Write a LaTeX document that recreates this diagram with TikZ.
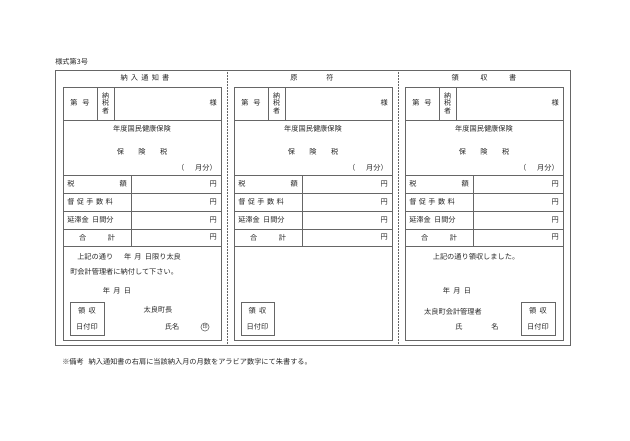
\documentclass[tikz,border=0pt]{standalone}
\usepackage{fontspec}
\newfontfamily\jp{Noto Sans CJK JP}
\begin{document}
\begin{tikzpicture}[x=1pt,y=-1pt,line width=0.5pt,
  every node/.style={font=\jp\fontsize{7.2}{8}\selectfont,inner sep=0pt,text=black!85},
  ln/.style={draw=black!60}, sep/.style={draw=black!60,densely dotted}]
\useasboundingbox (0,0) rectangle (630,440);
\node[anchor=west] (form) at (55,62) {様式第3号};
\draw[ln] (55,70) rectangle (570,345);
\draw[sep] (227,70) -- (227,345);
\draw[sep] (398,70) -- (398,345);
\node (t1) at (145,78) {納\ \ 入\ \ 通\ \ 知\ \ 書};
\node (t2) at (312,78) {原\hspace{4em}符};
\node (t3) at (484,78) {領\hspace{3em}収\hspace{3em}書};
\foreach \X in {63,234,405}{
\begin{scope}[shift={(\X,0)}]
\draw[ln] (0,87) rectangle (158,340);
\draw[ln] (0,120) -- (158,120);
\draw[ln] (34,87) -- (34,120) (51,87) -- (51,120);
\foreach \y in {175,193,211,229,246} \draw[ln] (0,\y) -- (158,\y);
\draw[ln] (68,175) -- (68,246);
\node at (17,103) {第\ \ \ 号};
\node[align=center,font=\jp\fontsize{7}{7.5}\selectfont] at (42.5,103) {納\\税\\者};
\node[anchor=east] at (154,103) {様};
\node at (79,129) {年度国民健康保険};
\node at (79,152) {保\hspace{2em}険\hspace{2em}税};
\node[anchor=east] at (154,168) {（\hspace{1.5em}月分）};
\node[anchor=west] at (4,184) {税};
\node[anchor=east] at (64,184) {額};
\node[anchor=west] at (4,202) {督\,\,促\,\,手\,\,数\,\,料};
\node[anchor=west] at (4,220) {延滞金\ \ 日間分};
\node at (34,237.5) {合\hspace{3em}計};
\foreach \y in {184,202,220,237.5} \node[anchor=east] at (154,\y) {円};
\end{scope}}
% left bottom
\node[anchor=west] (l1) at (77,257) {上記の通り\hspace{1.5em}年\ \ 月\ \ 日限り太良};
\node[anchor=west] (l2) at (70,272) {町会計管理者に納付して下さい。};
\node (l3) at (117,291) {年\ \ 月\ \ 日};
\draw[ln] (70,302) rectangle (104,335);
\node (l4) at (87,311) {領\ \ 収};
\node (l5) at (87,327) {日付印};
\node (l6) at (158,310) {太良町長};
\node (l7) at (172,327) {氏名};
\node[draw=black!70,circle,inner sep=0.5pt,font=\jp\fontsize{5}{5}\selectfont] (l8) at (205,327) {印};
% middle
\draw[ln] (241,302) rectangle (274,335);
\node (m1) at (257.5,311) {領\ \ 収};
\node (m2) at (257.5,327) {日付印};
% right
\node (r1) at (476,257) {上記の通り領収しました。};
\node (r2) at (457,291) {年\ \ 月\ \ 日};
\node (r3) at (453,312) {太良町会計管理者};
\node (r4) at (477,327) {氏\hspace{4em}名};
\draw[ln] (521,302) rectangle (555,335);
\node (r5) at (538,311) {領\ \ 収};
\node (r6) at (538,327) {日付印};
\node[anchor=west] (note) at (62,362) {※備考\ \ \ 納入通知書の右肩に当該納入月の月数をアラビア数字にて朱書する。};
\end{tikzpicture}
\end{document}
